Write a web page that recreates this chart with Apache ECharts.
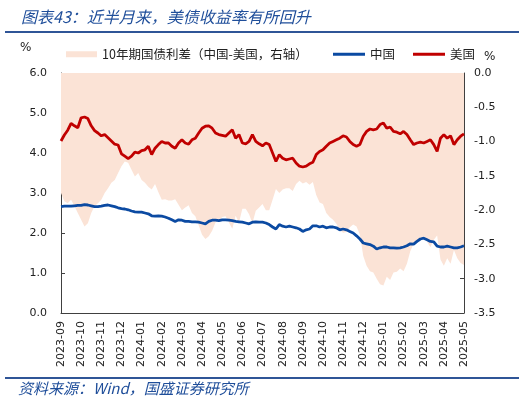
<!DOCTYPE html>
<html>
<head>
<meta charset="utf-8">
<script src="https://cdn.jsdelivr.net/npm/echarts@6/dist/echarts.min.js"></script>
<style>
html,body{margin:0;padding:0;background:#fff;}
#c{width:525px;height:403px;}
</style>
</head>
<body>
<div id="c"></div>
<script>
// Month tick labels (x axis), samples are 6 per month starting 2023-09
var months = ['2023-09','2023-10','2023-11','2023-12','2024-01','2024-02','2024-03','2024-04','2024-05','2024-06','2024-07','2024-08','2024-09','2024-10','2024-11','2024-12','2025-01','2025-02','2025-03','2025-04','2025-05'];
var samplesPerMonth = 6;

// 美国 10Y yield (%)
var us = [4.3,4.45,4.57,4.74,4.68,4.63,4.88,4.9,4.86,4.68,4.56,4.5,4.43,4.46,4.38,4.3,4.22,4.2,3.98,3.92,3.86,3.92,4.02,4.0,4.06,
4.08,4.17,3.96,4.12,4.21,4.29,4.25,4.25,4.17,4.12,4.25,4.33,4.25,4.22,4.33,4.37,4.5,4.62,4.67,4.68,4.62,4.5,4.46,4.44,
4.42,4.5,4.58,4.37,4.46,4.25,4.23,4.29,4.46,4.29,4.23,4.18,4.25,4.21,4.0,3.79,3.96,3.87,3.83,3.85,3.87,3.75,3.67,3.65,
3.67,3.73,3.77,3.96,4.04,4.08,4.17,4.25,4.29,4.33,4.37,4.43,4.4,4.29,4.21,4.17,4.21,4.42,4.54,4.6,4.58,4.6,4.71,4.75,
4.62,4.65,4.54,4.52,4.48,4.54,4.46,4.33,4.21,4.25,4.27,4.25,4.29,4.33,4.21,4.04,4.37,4.46,4.37,4.43,4.21,4.33,4.42,4.48];

// 中国 10Y yield (%)
var china = [2.66,2.67,2.67,2.67,2.68,2.69,2.69,2.71,2.7,2.68,2.66,2.66,2.67,2.69,2.7,2.68,2.66,2.63,2.61,2.6,2.58,2.55,2.53,2.52,2.52,
2.5,2.48,2.43,2.42,2.43,2.42,2.4,2.37,2.33,2.29,2.33,2.32,2.29,2.29,2.28,2.28,2.27,2.25,2.23,2.29,2.32,2.32,2.31,2.33,
2.33,2.32,2.31,2.29,2.28,2.27,2.25,2.23,2.27,2.28,2.27,2.27,2.25,2.21,2.15,2.1,2.21,2.17,2.15,2.17,2.15,2.13,2.1,2.04,
2.08,2.1,2.18,2.18,2.15,2.17,2.13,2.15,2.15,2.13,2.08,2.1,2.08,2.04,2.0,1.93,1.85,1.75,1.73,1.71,1.67,1.6,1.63,1.65,
1.65,1.63,1.63,1.62,1.63,1.65,1.68,1.73,1.72,1.79,1.85,1.87,1.83,1.79,1.78,1.67,1.65,1.65,1.67,1.65,1.63,1.63,1.65,1.68];

// 10年期国债利差（中国-美国）, right axis
var spread = [-1.75,-1.87,-1.9,-1.85,-1.94,-2.04,-2.14,-2.24,-2.19,-2.04,-1.94,-1.9,-1.85,-1.75,-1.68,-1.6,-1.56,-1.46,-1.36,-1.29,-1.31,-1.41,-1.51,-1.46,-1.56,
-1.6,-1.66,-1.7,-1.62,-1.74,-1.85,-1.84,-1.86,-1.86,-1.84,-1.92,-2.0,-1.96,-1.93,-2.04,-2.09,-2.22,-2.36,-2.42,-2.38,-2.3,-2.18,-2.15,-2.1,
-2.09,-2.18,-2.27,-2.08,-2.18,-1.98,-1.98,-2.06,-2.19,-2.01,-1.96,-1.91,-2.0,-2.0,-1.85,-1.69,-1.75,-1.7,-1.68,-1.68,-1.72,-1.62,-1.57,-1.61,
-1.59,-1.63,-1.59,-1.78,-1.89,-1.91,-2.04,-2.1,-2.14,-2.2,-2.29,-2.33,-2.32,-2.25,-2.21,-2.24,-2.36,-2.67,-2.81,-2.89,-2.91,-3.0,-3.08,-3.1,
-2.97,-3.02,-2.91,-2.9,-2.85,-2.89,-2.78,-2.6,-2.49,-2.46,-2.42,-2.38,-2.46,-2.54,-2.43,-2.37,-2.72,-2.81,-2.7,-2.78,-2.58,-2.7,-2.77,-2.8];

var nameSpread = '10年期国债利差（中国-美国，右轴）';
function pairs(arr){ return arr.map(function(v,i){ return [i/samplesPerMonth, v]; }); }

var blue = '#2F5597';
var axisColor = '#404040';
var txt = '#222';
var chart = echarts.init(document.getElementById('c'));
chart.setOption({
  animation:false,
  backgroundColor:'#fff',
  title:{
    text:'图表43：近半月来，美债收益率有所回升',
    left:16, top:4,
    textStyle:{fontFamily:'Noto Sans CJK SC', fontSize:16, fontStyle:'italic', fontWeight:'normal', color:'#1F4E9A'}
  },
  graphic:[
    {type:'line', shape:{x1:5,y1:32,x2:519,y2:32}, style:{stroke:blue,lineWidth:2}},
    {type:'line', shape:{x1:5,y1:378,x2:519,y2:378}, style:{stroke:blue,lineWidth:2}},
    {type:'text', left:20, top:42, style:{text:'%', fontFamily:'DejaVu Sans', fontSize:12, fill:txt}},
    {type:'text', left:484, top:51, style:{text:'%', fontFamily:'DejaVu Sans', fontSize:12, fill:txt}},
    {type:'text', left:18, top:381, style:{text:'资料来源：Wind，国盛证券研究所', fontFamily:'Noto Sans CJK SC', fontSize:15, fontStyle:'italic', fill:'#1F4E9A'}}
  ],
  legend:[
    {data:[nameSpread], left:61, top:43, icon:'rect', itemWidth:31, itemHeight:6, itemGap:5,
     textStyle:{fontFamily:'Noto Sans CJK SC', fontSize:12.5, color:txt}},
    {data:['中国'], left:328, top:43, icon:'rect', itemWidth:32, itemHeight:3,
     textStyle:{fontFamily:'Noto Sans CJK SC', fontSize:12.5, color:txt}},
    {data:['美国'], left:408, top:43, icon:'rect', itemWidth:32, itemHeight:3,
     textStyle:{fontFamily:'Noto Sans CJK SC', fontSize:12.5, color:txt}}
  ],
  grid:{left:61, right:61, top:73, bottom:90},
  xAxis:{
    type:'value', min:0, max:months.length-1, interval:1,
    splitLine:{show:false},
    axisLine:{lineStyle:{color:axisColor}},
    axisTick:{show:false},
    axisLabel:{rotate:90, margin:8, fontFamily:'DejaVu Sans', fontSize:11, color:txt,
      showMinLabel:true, showMaxLabel:true,
      formatter:function(v){ return months[Math.round(v)] || ''; }}
  },
  yAxis:[
    {type:'value', min:0, max:6, interval:1, position:'left',
     splitLine:{show:false},
     axisLine:{show:true, lineStyle:{color:axisColor}},
     axisTick:{show:true, inside:true, length:4, lineStyle:{color:axisColor}},
     axisLabel:{margin:14, fontFamily:'DejaVu Sans', fontSize:11, color:txt,
       formatter:function(v){return v.toFixed(1);}}},
    {type:'value', min:-3.5, max:0, interval:0.5, position:'right',
     splitLine:{show:false},
     axisLine:{show:true, lineStyle:{color:axisColor}},
     axisTick:{show:true, inside:true, length:4, lineStyle:{color:axisColor}},
     axisLabel:{margin:10, fontFamily:'DejaVu Sans', fontSize:11, color:txt,
       formatter:function(v){return v.toFixed(1);}}}
  ],
  series:[
    {name:nameSpread, type:'line', yAxisIndex:1, data:pairs(spread), symbol:'none',
     color:'#FBE3D6', lineStyle:{width:0, color:'#FBE3D6'},
     areaStyle:{color:'#FBE3D6', opacity:1, origin:'end'}, z:1},
    {name:'中国', type:'line', yAxisIndex:0, data:pairs(china), symbol:'none',
     color:'#0B4AA2', lineStyle:{width:2.8, color:'#0B4AA2'}, z:3},
    {name:'美国', type:'line', yAxisIndex:0, data:pairs(us), symbol:'none',
     color:'#C00000', lineStyle:{width:2.8, color:'#C00000'}, z:3}
  ]
});
</script>
</body>
</html>
